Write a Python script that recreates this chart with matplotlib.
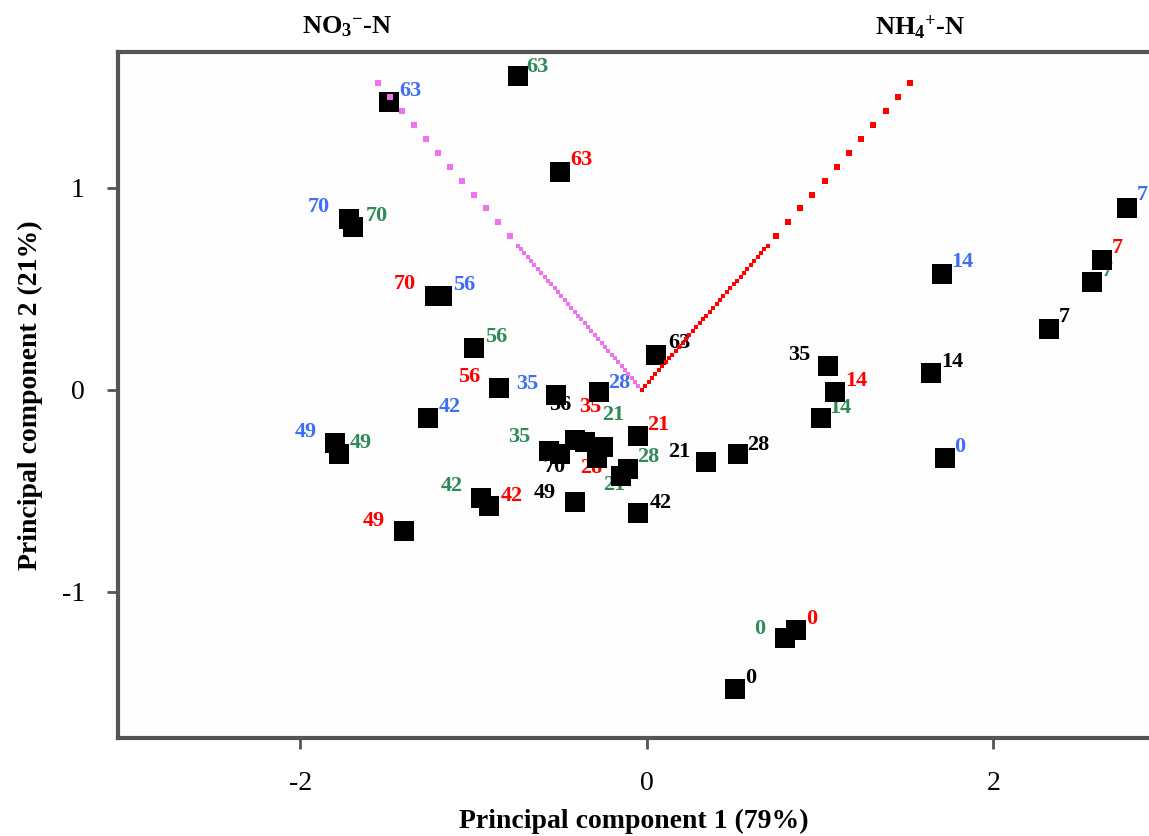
import numpy as np
import matplotlib
matplotlib.use('Agg')
import matplotlib.pyplot as plt

plt.rcParams['font.family'] = ['Liberation Serif', 'DejaVu Serif']
plt.rcParams['mathtext.fontset'] = 'custom'
plt.rcParams['mathtext.rm'] = 'Liberation Serif:bold'
plt.rcParams['mathtext.default'] = 'regular'
plt.rcParams['axes.unicode_minus'] = False

# PCA scores, one series per treatment (label = sampling day)
black_days = [0, 7, 14, 21, 28, 35, 42, 49, 56, 63, 70]
black_x = [0.508, 2.323, 1.642, 0.343, 0.528, 1.045, -0.049, -0.418, -0.418, 0.052, -0.502]
black_y = [-1.483, 0.300, 0.082, -0.359, -0.319, 0.116, -0.609, -0.557, -0.252, 0.171, -0.319]

red_days = [0, 7, 14, 21, 28, 35, 42, 49, 56, 63, 70]
red_x = [0.860, 2.629, 1.085, -0.049, -0.291, -0.355, -0.912, -1.405, -0.851, -0.499, -1.224]
red_y = [-1.191, 0.641, -0.012, -0.230, -0.339, -0.262, -0.577, -0.700, 0.007, 1.077, 0.463]

green_days = [0, 7, 14, 21, 21, 28, 35, 42, 49, 56, 63, 70]
green_x = [0.797, 2.569, 1.004, -0.251, -0.150, -0.110, -0.563, -0.955, -1.778, -0.996, -0.747, -1.697]
green_y = [-1.230, 0.532, -0.141, -0.285, -0.428, -0.394, -0.304, -0.537, -0.319, 0.205, 1.552, 0.804]

blue_days = [0, 7, 14, 28, 35, 42, 49, 56, 63, 70]
blue_x = [1.723, 2.773, 1.703, -0.274, -0.525, -1.261, -1.798, -1.183, -1.489, -1.720]
blue_y = [-0.339, 0.899, 0.572, -0.012, -0.027, -0.141, -0.265, 0.463, 1.423, 0.844]

# loading vectors
loading_names = ['NO$_3$$^{-}$-N', 'NH$_4$$^{+}$-N']
loading_x = [-1.553, 1.518]
loading_y = [1.517, 1.517]
loading_colors = ['#ee74ee', '#ff0000']

# label offsets in pixels (dx right, dy down)
black_off = [(16, -11), (15, -12), (21, -11), (-27, -10), (20, -9), (-29, -11),
             (22, -10), (-30, -9), (-14, -35), (23, -12), (-5, 13)]
red_off = [(16, -11), (15, -12), (21, -11), (20, -11), (-5, 10), (5, -35),
           (23, -10), (-30, -10), (-30, -11), (21, -12), (-30, -12)]
green_off = [(-25, -9), (15, -11), (19, -10), (10, -32), (-7, 9), (20, -12),
             (-30, -14), (-30, -12), (22, -11), (22, -11), (20, -9), (24, -11)]
blue_off = [(14, -11), (15, -13), (20, -12), (20, -9), (-29, -11), (21, -11),
            (-30, -11), (22, -11), (21, -11), (-30, -12)]

series = [
    (black_days, black_x, black_y, black_off, 'black'),
    (red_days, red_x, red_y, red_off, '#ff0000'),
    (green_days, green_x, green_y, green_off, '#2e8b57'),
    (blue_days, blue_x, blue_y, blue_off, '#3d6ef5'),
]

fig = plt.figure(figsize=(11.49, 8.36), dpi=100)
ax = fig.add_axes([0.1027, 0.1172, 0.8973, 0.8206])
ax.set_facecolor('#fdfdfd')

for days, xs, ys, offs, col in series:
    ax.scatter(xs, ys, marker='s', s=15 ** 2, c='black', linewidths=0, zorder=3)
    for d, x, y, (dx, dy) in zip(days, xs, ys, offs):
        ax.annotate(str(d), (x, y), xytext=(dx, -dy), textcoords='offset pixels',
                    ha='center', va='center', color=col, fontsize=16,
                    fontweight='bold', zorder=2)

# loading vectors drawn as square dots, finer near the origin
x0, y0 = -0.03, 0.0
for lx, ly, col in zip(loading_x, loading_y, loading_colors):
    t_in = np.linspace(0, 0.47, 38)
    t_out = np.linspace(0.5, 1.0, 12)
    ax.plot(x0 + t_in * (lx - x0), y0 + t_in * (ly - y0), ls='none', marker='s',
            ms=2.6, mew=0, color=col, zorder=4)
    ax.plot(x0 + t_out * (lx - x0), y0 + t_out * (ly - y0), ls='none', marker='s',
            ms=5, mew=0, color=col, zorder=4)

fig.text(347 / 1149, 1 - 27 / 836, loading_names[0], ha='center', va='center',
         fontsize=19, fontweight='bold')
fig.text(920 / 1149, 1 - 27 / 836, loading_names[1], ha='center', va='center',
         fontsize=19, fontweight='bold')

ax.set_xlim(-3.053, 2.898)
ax.set_ylim(-1.725, 1.671)
ax.set_xticks([-2, 0, 2])
ax.set_yticks([-1, 0, 1])
ax.tick_params(direction='out', length=8, width=2, color='#555555',
               labelsize=20, pad=16)
ax.spines['right'].set_visible(False)
for s in ['left', 'bottom', 'top']:
    ax.spines[s].set_linewidth(3)
    ax.spines[s].set_color('#555555')

ax.set_xlabel('Principal component 1 (79%)', fontsize=20, fontweight='bold', labelpad=9)
ax.set_ylabel('Principal component 2 (21%)', fontsize=20, fontweight='bold', labelpad=13)

fig.savefig('out.png', dpi=100)
